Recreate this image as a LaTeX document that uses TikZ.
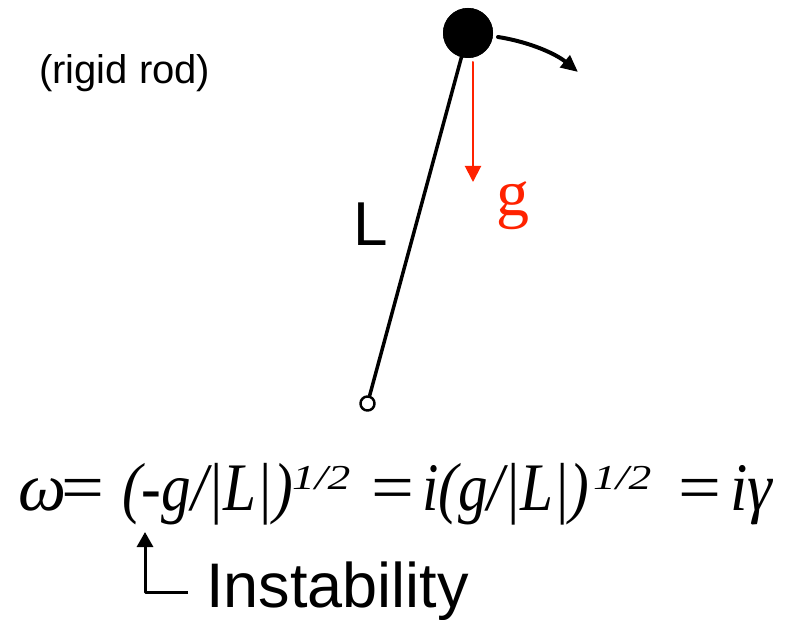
\documentclass[tikz,border=0pt]{standalone}
\usepackage{fontspec}
\setmainfont{Liberation Serif}
\setsansfont{Liberation Sans}
\usepackage{xcolor}
\usepackage{graphicx}
\usepackage{tikz}
\usetikzlibrary{arrows.meta}
\definecolor{gravred}{HTML}{FF2200}
\newcommand{\halfpow}{\scalebox{1.3}[1]{\fontsize{35}{35}\selectfont\itshape 1/2}}
\newcommand{\wideeq}{\scalebox{1.12}[1]{=}}

\begin{document}
\begin{tikzpicture}[x=1pt, y=-1pt, line cap=round, line join=round,
    eqpart/.style={anchor=base west, inner sep=0, font=\fontsize{68}{76}\selectfont}]
  \useasboundingbox (0,0) rectangle (797,620);
  % label of the rod
  \node[anchor=base west, inner sep=0, font=\sffamily\fontsize{40}{48}\selectfont] (rodlabel) at (39,84) {(rigid rod)};
  % bob and pivot
  \node[circle, fill=black, inner sep=0, minimum size=50pt] (bob) at (468,33) {};
  \node[circle, draw=black, fill=white, line width=2.5, inner sep=0, minimum size=14pt] (pivot) at (367.5,403.5) {};
  \draw[line width=3.5] (bob.center) -- (pivot);
  \node[circle, fill=black, inner sep=0, minimum size=50pt] at (bob) {};
  % swing direction
  \coordinate (swingA) at (498,37);
  \coordinate (swingB) at (578,72);
  \draw[line width=4, -{Triangle[length=17pt, width=15pt]}] (swingA) .. controls (530,42) and (556,54) .. (swingB);
  % gravity
  \coordinate (gtop) at (473,62);
  \coordinate (gtip) at (473,182);
  \draw[gravred, line width=2, -{Triangle[length=16pt, width=16pt]}] (gtop) -- (gtip);
  \node[anchor=base west, inner sep=0, gravred, font=\fontsize{66}{70}\selectfont] (glabel) at (496,216) {g};
  % length
  \node[anchor=base west, inner sep=0, font=\sffamily\fontsize{62}{70}\selectfont] (Llabel) at (353.5,246) {L};
  % dispersion relation
  \node[eqpart] (eqomega) at (18,510) {\itshape ω};
  \node[eqpart] (eqeqA) at (61,510) {\wideeq};
  \node[eqpart] (eqlhs) at (122,510) {\scalebox{0.87}[1]{\itshape (-g/|L|)}};
  \node[eqpart] (eqpowA) at (292,489) {\halfpow};
  \node[eqpart] (eqeqB) at (371,510) {\wideeq};
  \node[eqpart] (eqmid) at (422,510) {\scalebox{0.87}[1]{\itshape i(g/|L|)}};
  \node[eqpart] (eqpowB) at (593,489) {\halfpow};
  \node[eqpart] (eqeqC) at (678,510) {\wideeq};
  \node[eqpart] (eqend) at (730,510) {\scalebox{0.92}[1]{\itshape iγ}};
  % instability pointer
  \node[anchor=base west, inner sep=0, font=\sffamily\fontsize{63}{70}\selectfont] (instab) at (206,607) {Instability};
  \coordinate (ptip) at (145,532);
  \draw[line width=3, line cap=butt, -{Triangle[length=15pt, width=16pt]}] (188,592) -- (145,592) -- (ptip);
\end{tikzpicture}
\end{document}
